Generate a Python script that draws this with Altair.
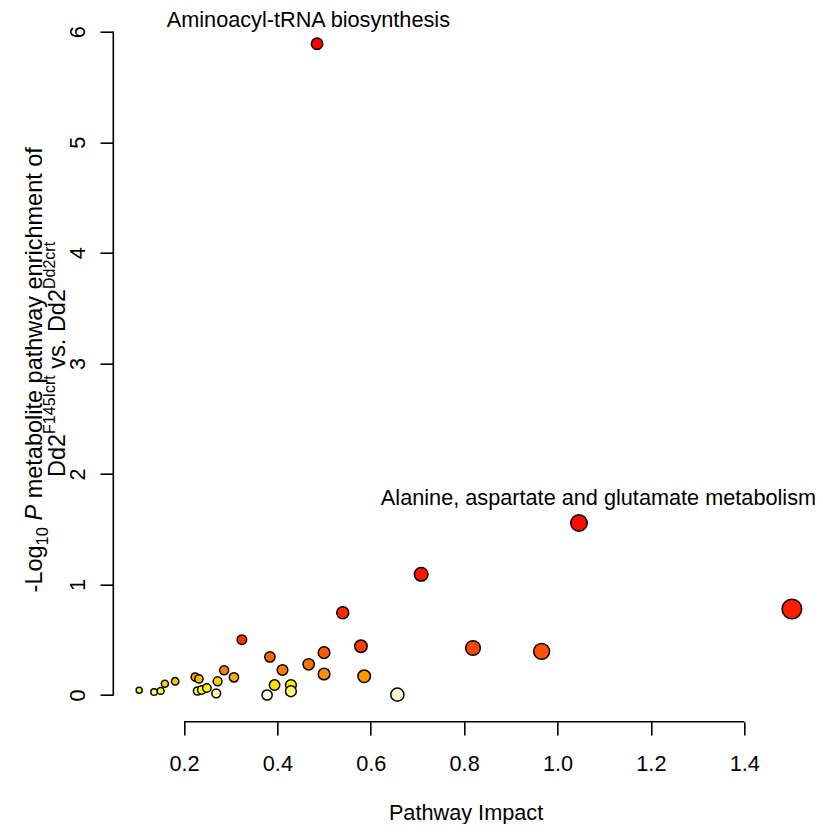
import altair as alt
import pandas as pd
import colorsys

# ---- data ----
impact = [0.104, 0.136, 0.150, 0.159, 0.181, 0.224, 0.232, 0.229, 0.238, 0.249,
          0.269, 0.272, 0.286, 0.307, 0.324, 0.378, 0.384, 0.394, 0.411, 0.429,
          0.429, 0.467, 0.500, 0.500, 0.579, 0.586, 0.657, 0.819, 0.966, 0.708,
          0.540, 1.046, 1.502, 0.485]
neglogp = [0.043, 0.027, 0.037, 0.102, 0.124, 0.163, 0.145, 0.036, 0.045, 0.063,
           0.015, 0.124, 0.223, 0.160, 0.500, 0.000, 0.344, 0.090, 0.226, 0.090,
           0.034, 0.278, 0.383, 0.190, 0.441, 0.169, 0.003, 0.425, 0.395, 1.092,
           0.744, 1.556, 0.778, 5.891]
pathway = [""] * len(impact)
pathway[33] = "Aminoacyl-tRNA biosynthesis"
pathway[31] = "Alanine, aspartate and glutamate metabolism"

x_ticks = [0.2, 0.4, 0.6, 0.8, 1.0, 1.2, 1.4]
y_ticks = [0, 1, 2, 3, 4, 5, 6]

df = pd.DataFrame({"impact": impact, "neglogp": neglogp, "pathway": pathway})
one = pd.DataFrame({"k": [0]})


# R heat.colors(n) palette, assigned by rank of -log10 p
def heat_colors(n):
    j = n // 4
    i = n - j
    out = []
    for k in range(i):
        h = (1 / 6) * k / (i - 1)
        r, g, b = colorsys.hsv_to_rgb(h, 1, 1)
        out.append("#%02X%02X%02X" % (round(r * 255), round(g * 255), round(b * 255)))
    for k in range(j):
        s0, s1 = 1 - 1 / (2 * j), 1 / (2 * j)
        s = s0 + (s1 - s0) * k / (j - 1)
        r, g, b = colorsys.hsv_to_rgb(1 / 6, s, 1)
        out.append("#%02X%02X%02X" % (round(r * 255), round(g * 255), round(b * 255)))
    return out


N = len(impact)
palette = heat_colors(N)

FONT = "Liberation Sans, Arial, Helvetica, sans-serif"
LEFT, TOP = 113.3, 17.7  # page position of plot area
PXU = 466.9               # pixels per unit of impact
XMIN = 0.0486
W, H = 701.7, 704         # keeps the page inside the 823x832 window
xscale = alt.Scale(domain=[XMIN, XMIN + W / PXU], nice=False, zero=False)
yscale = alt.Scale(domain=[-0.2415, 6.127], nice=False, zero=False)

base = alt.Chart(df)

points = base.transform_window(
    rank="row_number()", sort=[alt.SortField("neglogp", order="descending")]
).mark_point(filled=True, shape="circle", stroke="black", strokeWidth=1.5, opacity=1).encode(
    x=alt.X("impact:Q", scale=xscale,
            axis=alt.Axis(values=x_ticks, format=".1f", domain=False, grid=False,
                          tickSize=13.3, tickWidth=1.6, tickColor="black",
                          labelFont=FONT, labelFontSize=21.7, labelColor="black",
                          labelBaseline="alphabetic", labelPadding=36,
                          labelFlush=False, labelOverlap=False, labelBound=False,
                          title="Pathway Impact", titleFont=FONT, titleFontSize=21.7,
                          titleFontWeight="normal", titleColor="black",
                          titleBaseline="alphabetic", titleY=97.5,
                          titleX=(704.5) / 2)),
    y=alt.Y("neglogp:Q", scale=yscale,
            axis=alt.Axis(values=y_ticks, format="d", domain=False, grid=False,
                          tickSize=13.3, tickWidth=1.6, tickColor="black",
                          labelFont=FONT, labelFontSize=21.7, labelColor="black",
                          labelAngle=270, labelAlign="center", labelBaseline="alphabetic",
                          labelPadding=15.5, labelFlush=False, labelOverlap=False,
                          labelBound=False, title=None)),
    fill=alt.Fill("rank:O", scale=alt.Scale(domain=list(range(1, N + 1)), range=palette),
                  legend=None),
    size=alt.Size("impact:Q", scale=alt.Scale(domain=[min(impact), max(impact)],
                                              range=[36, 385]), legend=None),
)

# axis lines spanning first to last tick (R style)
yline = alt.Chart(one).mark_rule(color="black", strokeWidth=1.6).encode(
    x=alt.value(0), y=alt.datum(y_ticks[0], scale=yscale), y2=alt.datum(y_ticks[-1]))
xline = alt.Chart(one).mark_rule(color="black", strokeWidth=1.6).encode(
    y=alt.value(H), x=alt.datum(x_ticks[0], scale=xscale), x2=alt.datum(x_ticks[-1]))

lab1 = base.transform_filter(alt.datum.pathway == pathway[33]).mark_text(
    font=FONT, fontSize=21.7, align="center", baseline="alphabetic", dx=-8.7, dy=-16.5,
    color="black").encode(x=alt.X("impact:Q", scale=xscale), y=alt.Y("neglogp:Q", scale=yscale),
                          text="pathway:N")
lab2 = base.transform_filter(alt.datum.pathway == pathway[31]).mark_text(
    font=FONT, fontSize=21.7, align="center", baseline="alphabetic", dx=19.5, dy=-18,
    color="black").encode(x=alt.X("impact:Q", scale=xscale), y=alt.Y("neglogp:Q", scale=yscale),
                          text="pathway:N")

# ---- y axis title built from pieces (sub/superscripts, italic P) ----
AW = {" ": 278, "-": 333, ".": 278, ",": 278, "0": 556, "1": 556, "2": 556, "4": 556, "5": 556,
      "A": 667, "D": 722, "F": 611, "I": 278, "L": 556, "N": 722, "P": 667, "R": 722,
      "a": 556, "b": 556, "c": 500, "d": 556, "e": 556, "f": 278, "g": 556, "h": 556,
      "i": 222, "l": 222, "m": 833, "n": 556, "o": 556, "p": 556, "r": 333, "s": 500,
      "t": 278, "u": 556, "v": 500, "w": 722, "y": 500}


def tw(s, size):
    return sum(AW[c] for c in s) / 1000 * size


F1, S1 = 23.5, 16.5
F2, S2 = 23.5, 16.0
center_y = TOP + 704 / 2
line1 = [("-Log", F1, "normal", 0), ("10", S1, "normal", 6), (" ", F1, "normal", 0),
         ("P", F1, "italic", 0), (" metabolite pathway enrichment of", F1, "normal", 0)]
line2 = [("Dd2", F2, "normal", 0), ("F145Icrt", S2, "normal", -10.5), (" vs. ", F2, "normal", 0),
         ("Dd2", F2, "normal", 0), ("Dd2crt", S2, "normal", -10.5)]

title_layers = []
for pieces, bx, start in ((line1, 42.0, None), (line2, 65.0, 477.0)):
    total = sum(tw(s, sz) for s, sz, _, _ in pieces)
    ypos = start if start is not None else center_y + total / 2
    for s, sz, style, shift in pieces:
        core = s.strip()
        if core:
            lead = tw(s[: len(s) - len(s.lstrip())], sz)
            title_layers.append(
                alt.Chart(one).mark_text(font=FONT, fontSize=sz, fontStyle=style, angle=270,
                                         align="left", baseline="alphabetic", color="black")
                .encode(x=alt.value(bx + shift - LEFT), y=alt.value(ypos - lead - TOP),
                        text=alt.value(core)))
        ypos -= tw(s, sz)

chart = alt.layer(points, yline, xline, lab1, lab2, *title_layers).properties(
    width=W, height=H,
    autosize=alt.AutoSizeParams(type="none"),
    padding={"left": LEFT - 8, "top": TOP - 8, "right": 0, "bottom": 102},
    background="white",
).configure_view(stroke=None)

chart.save("out.html", embed_options={"renderer": "svg", "actions": False})
